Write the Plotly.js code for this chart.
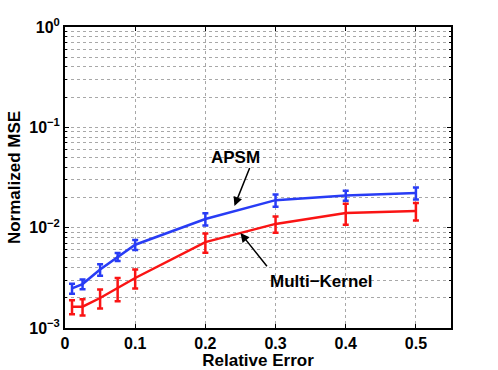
<!DOCTYPE html>
<html>
<head>
<meta charset="utf-8">
<script src="https://cdn.plot.ly/plotly-3.0.1.min.js"></script>
<style>
  html, body { margin: 0; padding: 0; background: #fff; }
  #plot { width: 498px; height: 370px; }
</style>
</head>
<body>
<div id="plot"></div>
<script>
// relative error levels
const relErr = [0.01, 0.025, 0.05, 0.075, 0.1, 0.2, 0.3, 0.4, 0.5];

// APSM (blue)
const apsmMse = [0.00248, 0.00274, 0.00382, 0.00513, 0.00676, 0.0122, 0.0188, 0.0209, 0.0221];
const apsmErr = [0.00028, 0.00031, 0.0005, 0.00047, 0.00078, 0.0017, 0.0026, 0.0024, 0.003];

// Multi-Kernel (red)
const mkMse = [0.00163, 0.00163, 0.00199, 0.0025, 0.00315, 0.00718, 0.0109, 0.014, 0.0147];
const mkErr = [0.00026, 0.0003, 0.00043, 0.00065, 0.00068, 0.00155, 0.002, 0.0033, 0.0029];

// y axis ticks
const decades = [0.001, 0.01, 0.1, 1];
const decadeLabels = ["10<sup>\u22123</sup>", "10<sup>\u22122</sup>", "10<sup>\u22121</sup>", "10<sup>0</sup>"];
const minorVals = [];
for (const d of [0.001, 0.01, 0.1]) {
  for (let k = 2; k <= 9; k++) minorVals.push(k * d);
}

const blue = "rgb(40,60,245)";
const red = "rgb(250,20,20)";
const font = "Liberation Sans, Arial, sans-serif";

const data = [
  {
    x: relErr, y: apsmMse, mode: "lines", type: "scatter",
    line: { color: blue, width: 2.5 },
    error_y: { type: "data", array: apsmErr, visible: true, color: blue, thickness: 2.5, width: 3 }
  },
  {
    x: relErr, y: mkMse, mode: "lines", type: "scatter",
    line: { color: red, width: 2.5 },
    error_y: { type: "data", array: mkErr, visible: true, color: red, thickness: 2.5, width: 3 }
  }
];

const gridCol = "#a8a8a8";

// arrows only (label text is placed separately)
function arrow(tipX, tipY, ax, ay) {
  return {
    x: (tipX - 65) / 700, y: -(tipY - 27) / 100.3, xref: "x", yref: "y",
    text: " ", font: { size: 1 }, showarrow: true, arrowhead: 2, arrowsize: 1.2,
    arrowwidth: 1.5, arrowcolor: "#000", ax: ax, ay: ay, standoff: 0, startstandoff: 0
  };
}

const layout = {
  width: 498, height: 370,
  margin: { l: 65, r: 47, t: 27, b: 42 },
  paper_bgcolor: "#fff", plot_bgcolor: "#fff",
  showlegend: false,
  font: { family: font, size: 16, color: "#000", weight: "bold" },
  xaxis: {
    range: [0, 0.55], tickmode: "linear", tick0: 0, dtick: 0.1,
    ticks: "inside", ticklen: 4, tickcolor: "#000",
    showline: true, linecolor: "#000", linewidth: 2, mirror: "ticks",
    showgrid: true, gridcolor: gridCol, griddash: "dot", gridwidth: 1,
    zeroline: false,
    tickfont: { family: font, size: 16, weight: "bold" },
    title: { text: "Relative Error", font: { family: font, size: 17, weight: "bold" }, standoff: 0 }
  },
  yaxis: {
    type: "log", range: [-3, 0],
    tickmode: "array", tickvals: decades, ticktext: decadeLabels,
    ticks: "inside", ticklen: 4, tickcolor: "#000",
    showline: true, linecolor: "#000", linewidth: 2, mirror: "ticks",
    showgrid: true, gridcolor: gridCol, griddash: "dot", gridwidth: 1,
    zeroline: false,
    tickfont: { family: font, size: 16, weight: "bold" },
    minor: {
      tickmode: "array", tickvals: minorVals,
      ticks: "inside", ticklen: 2, tickcolor: "#000",
      showgrid: true, gridcolor: gridCol, griddash: "dot", gridwidth: 1
    },
    title: { text: "Normalized MSE", font: { family: font, size: 17, weight: "bold" }, standoff: 4 }
  },
  annotations: [
    arrow(234, 206, 16, -40),
    {
      x: (235 - 65) / 700, y: -(157 - 27) / 100.3, xref: "x", yref: "y",
      text: "APSM", showarrow: false,
      font: { family: font, size: 17, weight: "bold", color: "#000" }
    },
    arrow(240, 233, 28, 35),
    {
      x: (321 - 65) / 700, y: -(281 - 27) / 100.3, xref: "x", yref: "y",
      text: "Multi\u2212Kernel", showarrow: false,
      font: { family: font, size: 17, weight: "bold", color: "#000" }
    }
  ]
};

Plotly.newPlot("plot", data, layout, { displayModeBar: false, staticPlot: true });
</script>
</body>
</html>
